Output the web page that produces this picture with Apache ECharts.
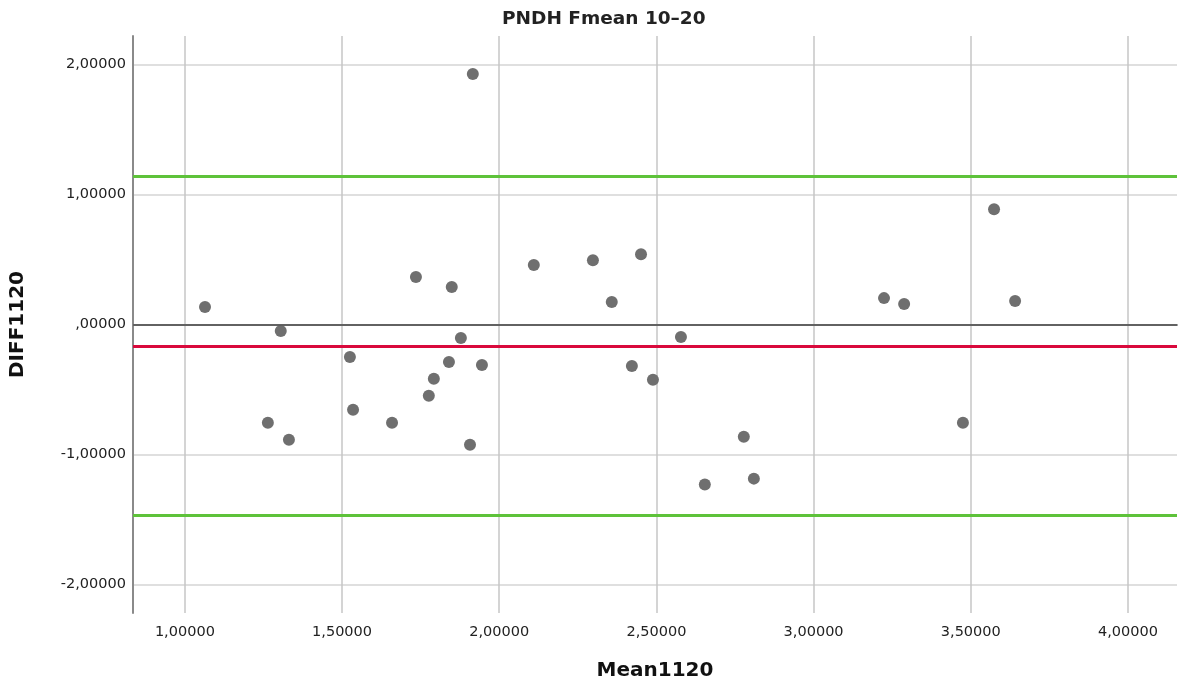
<!DOCTYPE html>
<html>
<head>
<meta charset="utf-8">
<script src="https://cdn.jsdelivr.net/npm/echarts@6/dist/echarts.min.js"></script>
<style>
  html, body { margin: 0; padding: 0; background: #fff; }
  #chart { width: 1178px; height: 686px; }
</style>
</head>
<body>
<div id="chart"></div>
<script>
// Mean1120 (x) and DIFF1120 (y)
var meanVals = [1.064, 1.305, 1.264, 1.331, 1.525, 1.535, 1.659, 1.735, 1.776, 1.792,
    1.840, 1.849, 1.878, 1.907, 1.916, 1.945, 2.110, 2.298, 2.358, 2.422,
    2.451, 2.489, 2.578, 2.654, 2.778, 2.810, 3.224, 3.288, 3.475, 3.574, 3.641];
var diffVals = [0.134, -0.050, -0.756, -0.887, -0.250, -0.656, -0.756, 0.365, -0.549, -0.418,
    -0.288, 0.288, -0.104, -0.925, 1.927, -0.311, 0.457, 0.495, 0.173, -0.319,
    0.541, -0.426, -0.096, -1.232, -0.864, -1.186, 0.203, 0.157, -0.756, 0.887, 0.180];

var xTicks = [1.0, 1.5, 2.0, 2.5, 3.0, 3.5, 4.0];
var yTicks = [-2, -1, 0, 1, 2];

// reference lines: mean diff and limits of agreement
var meanDiff = -0.165;
var upperLoA = 1.140;
var lowerLoA = -1.470;

var points = meanVals.map(function (m, i) { return [m, diffVals[i]]; });

function fmt(v) {
    var s = Math.abs(v).toFixed(5).replace('.', ',');
    if (Math.abs(v) < 1e-9) s = s.replace(/^0/, '');
    return (v < 0 ? '-' : '') + s;
}

var chart = echarts.init(document.getElementById('chart'));
chart.setOption({
    animation: false,
    title: {
        text: 'PNDH Fmean 10\u201320',
        left: 497,
        top: 5,
        textStyle: { fontFamily: 'DejaVu Sans', fontSize: 18.5, fontWeight: 'bold', color: '#222' }
    },
    grid: { left: 133, right: 1, top: 36, bottom: 72 },
    xAxis: {
        type: 'value',
        min: 0.835,
        max: 4.156,
        name: 'Mean1120',
        nameLocation: 'middle',
        nameGap: 48,
        nameTextStyle: { fontFamily: 'DejaVu Sans', fontSize: 20, fontWeight: 'bold', color: '#111' },
        axisLine: { lineStyle: { color: '#8a8a8a', width: 2 } },
        axisTick: { show: false, customValues: xTicks },
        axisLabel: {
            customValues: xTicks,
            formatter: fmt,
            margin: 12,
            fontFamily: 'DejaVu Sans', fontSize: 14.5, color: '#222'
        },
        splitLine: { show: true, lineStyle: { color: '#c6c6c6', width: 1.5 } }
    },
    yAxis: {
        type: 'value',
        min: -2.22,
        max: 2.22,
        name: 'DIFF1120',
        nameLocation: 'middle',
        nameGap: 105,
        nameTextStyle: { fontFamily: 'DejaVu Sans', fontSize: 20, fontWeight: 'bold', color: '#111' },
        axisLine: { show: true, lineStyle: { color: '#8a8a8a', width: 2 } },
        axisTick: { show: false, customValues: yTicks },
        axisLabel: {
            customValues: yTicks,
            formatter: fmt,
            margin: 7,
            fontFamily: 'DejaVu Sans', fontSize: 14.5, color: '#222'
        },
        splitLine: { show: true, lineStyle: { color: '#d4d4d4', width: 1.5 } }
    },
    series: [{
        type: 'scatter',
        data: points,
        symbolSize: 12,
        itemStyle: { color: '#6f6f6f', opacity: 1 },
        markLine: {
            silent: true,
            symbol: 'none',
            label: { show: false },
            data: [
                { yAxis: 0, lineStyle: { color: '#555', width: 1.5, type: 'solid' } },
                { yAxis: meanDiff, lineStyle: { color: '#d9093c', width: 3, type: 'solid' } },
                { yAxis: upperLoA, lineStyle: { color: '#5ec23a', width: 3, type: 'solid' } },
                { yAxis: lowerLoA, lineStyle: { color: '#5ec23a', width: 3, type: 'solid' } }
            ]
        }
    }]
});
</script>
</body>
</html>
